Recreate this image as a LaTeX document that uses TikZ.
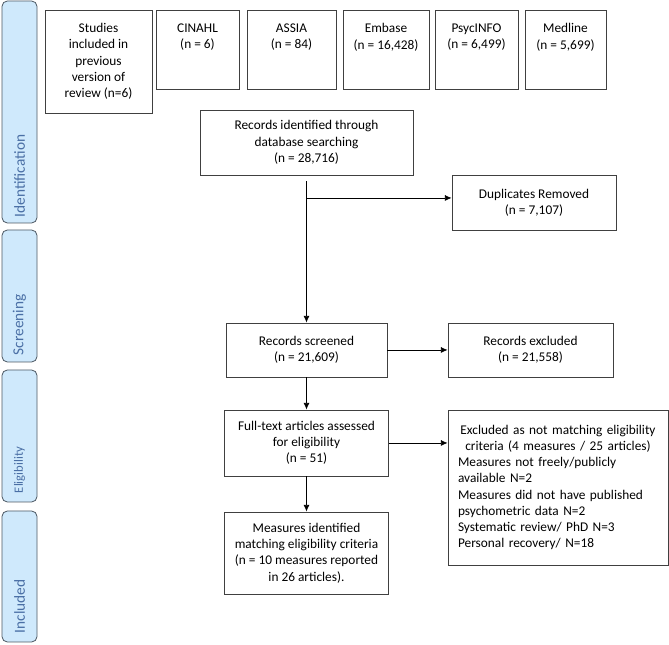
\documentclass[tikz,border=0pt]{standalone}
\usepackage{fontspec}
\setmainfont{Carlito}
\usepackage{tikz}
\usetikzlibrary{arrows,arrows.meta,calc,positioning}
\definecolor{boxline}{HTML}{404040}
\definecolor{barfill}{HTML}{CFE9FC}
\definecolor{barline}{HTML}{4D5964}
\definecolor{bartext}{HTML}{4A6FA5}
\tikzset{%
	box/.style      = {draw=boxline, line width=0.6pt, rectangle, align=center, inner sep=2pt, font=\fontsize{10pt}{12.2pt}\selectfont},
	dbbox/.style    = {box, minimum height=59.25pt}, % database box
	dbtext/.style   = {anchor=north, align=center, yshift=-7pt, font=\fontsize{10pt}{12.2pt}\selectfont},
	phase/.style    = {draw=barline, fill=barfill, line width=0.6pt, rounded corners=4pt, minimum width=26.25pt},
	phaselbl/.style = {text=bartext, rotate=90, anchor=west, inner sep=0pt, font=\fontsize{11.5pt}{13pt}\selectfont},
	waypoint/.style = {coordinate},
	arrow/.style    = {line width=0.6pt, ->},
}

\begin{document}
\begin{tikzpicture}[x=0.75pt,y=-0.75pt,node distance=1.5cm,>={Latex[length=5pt,width=4.5pt]}]
	\useasboundingbox (0,0) rectangle (669,645);

	% phases
	\node [phase, minimum height=166.5pt] (ident) at (19.5,112) {};
	\node [phase, minimum height=99pt] (screen) at (19.5,296) {};
	\node [phase, minimum height=99pt] (elig) at (19.5,436) {};
	\node [phase, minimum height=98.25pt] (incl) at (19.5,576.5) {};
	\node [phaselbl] (ident-l) at ([yshift=4.5pt]ident.south) {Identification};
	\node [phaselbl] (screen-l) at ([yshift=5.25pt]screen.south) {Screening};
	\node [phaselbl, font=\fontsize{9.5pt}{11pt}\selectfont] (elig-l) at ([yshift=6.75pt]elig.south) {Eligibility};
	\node [phaselbl] (incl-l) at ([yshift=6.75pt]incl.south) {Included};

	% sources
	\node [box, minimum width=80.25pt, minimum height=77.25pt] (prev) at (98.5,61.5) {Studies\\included in\\previous\\version of\\review (n=6)};
	\node [dbbox, minimum width=62.25pt] (cinahl) at (197.5,49.5) {};
	\node [dbbox, minimum width=66.75pt] (assia) at (291.5,49.5) {};
	\node [dbbox, minimum width=64.5pt] (embase) at (386,49.5) {};
	\node [dbbox, minimum width=62.25pt] (psyc) at (476.5,49.5) {};
	\node [dbbox, minimum width=60.75pt] (medline) at (565.5,49.5) {};
	\node [dbtext] (cinahl-t) at (cinahl.north) {CINAHL\\(n = 6)};
	\node [dbtext] (assia-t) at (assia.north) {ASSIA\\(n = 84)};
	\node [dbtext] (embase-t) at (embase.north) {Embase\\(n = 16,428)};
	\node [dbtext] (psyc-t) at (psyc.north) {PsycINFO\\(n = 6,499)};
	\node [dbtext] (medline-t) at (medline.north) {Medline\\(n = 5,699)};

	% flow
	\node [box, minimum width=159.75pt, minimum height=48.75pt] (recid) at (306.5,142.5) {Records identified through\\database searching\\(n = 28,716)};
	\node [box, minimum width=120.75pt, minimum height=40.5pt] (screened) [below of=recid, node distance=155.6pt] {Records screened\\(n = 21,609)};
	\node [box, minimum width=123pt, minimum height=49.5pt] (fulltext) [below of=screened, node distance=69.75pt] {Full-text articles assessed\\for eligibility\\(n = 51)};
	\node [box, minimum width=123pt, minimum height=61.5pt] (measures) [below of=fulltext, node distance=82.5pt] {Measures identified\\matching eligibility criteria\\(n = 10 measures reported\\in 26 articles).};
	\node [box, minimum width=123pt, minimum height=41.25pt] (dup) at (534,202.5) {Duplicates Removed\\(n = 7,107)};
	\node [box, minimum width=123.75pt, minimum height=40.5pt] (excl) [right of=screened, node distance=168pt] {Records excluded\\(n = 21,558)};
	\node [box, align=left, text width=150pt, inner xsep=7.5pt, minimum height=116.25pt] (inelig) at (558,487.5) {\makebox[\hsize]{Excluded as not matching eligibility}\\\makebox[\hsize]{criteria (4 measures / 25 articles)}\\Measures not freely/publicly\\available N=2\\Measures did not have published\\psychometric data N=2\\Systematic review/ PhD N=3\\Personal recovery/ N=18};
	\node [waypoint] (gap) [below of=recid, node distance=28.9pt] {};
	\node [waypoint] (split) [below of=recid, node distance=41.6pt] {};

	\draw[arrow] (gap) -- (screened);
	\draw[arrow] (split) -- (split -| dup.west);
	\draw[arrow] (screened) -- (excl);
	\draw[arrow] (screened) -- (fulltext);
	\draw[arrow] (fulltext) -- (fulltext -| inelig.west);
	\draw[arrow] (fulltext) -- (measures);
\end{tikzpicture}
\end{document}
